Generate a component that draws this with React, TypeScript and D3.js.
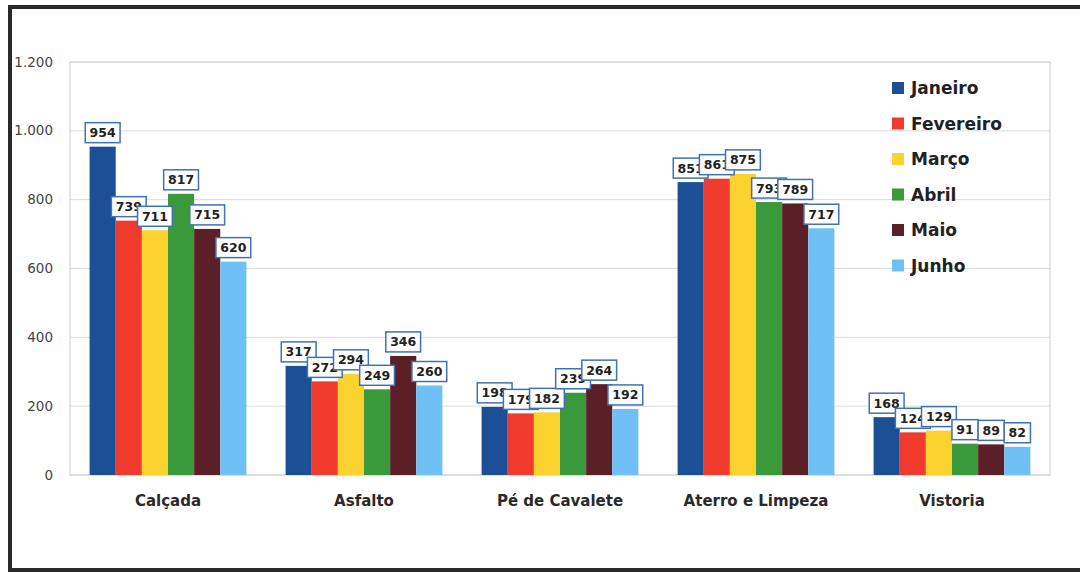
import React from "react";
import * as d3 from "d3";

const categories = ["Calçada", "Asfalto", "Pé de Cavalete", "Aterro e Limpeza", "Vistoria"];
const months = ["Janeiro", "Fevereiro", "Março", "Abril", "Maio", "Junho"];
const colors = ["#1d4f96", "#ef3a2d", "#fcd22f", "#3a993b", "#5b1f27", "#6fc0f4"];
const janeiro = [954, 317, 198, 851, 168];
const fevereiro = [739, 272, 179, 861, 124];
const marco = [711, 294, 182, 875, 129];
const abril = [817, 249, 239, 793, 91];
const maio = [715, 346, 264, 789, 89];
const junho = [620, 260, 192, 717, 82];
const series = [janeiro, fevereiro, marco, abril, maio, junho];
const yTicks = [0, 200, 400, 600, 800, 1000, 1200];

const W = 1080;
const H = 573;
const plot = { left: 70, right: 1050, top: 62, bottom: 475 };

export default function App() {
  const x0 = d3
    .scaleBand<string>()
    .domain(categories)
    .range([plot.left, plot.right])
    .paddingInner(0.2)
    .paddingOuter(0.1);
  const x1 = d3.scaleBand<string>().domain(months).range([0, x0.bandwidth()]).padding(0);
  const y = d3.scaleLinear().domain([0, 1200]).range([plot.bottom, plot.top]);
  const fmt = (v: number) => d3.format(",")(v).replace(/,/g, ".");

  const labelFont = "'DejaVu Sans', Verdana, sans-serif";

  return (
    <svg
      width={W}
      height={H}
      style={{ position: "absolute", left: 0, top: 0, background: "#fff" }}
      fontFamily={labelFont}
    >
      <rect x={0} y={0} width={W} height={H} fill="#fff" />
      {/* outer frame */}
      <rect x={10} y={7} width={W + 20} height={563} fill="none" stroke="#2a2a2a" strokeWidth={4} />
      {/* gridlines */}
      {yTicks.map((t) => (
        <line key={t} x1={plot.left} x2={plot.right} y1={y(t)} y2={y(t)} stroke="#dcdcdc" strokeWidth={1} />
      ))}
      <rect
        x={plot.left}
        y={plot.top}
        width={plot.right - plot.left}
        height={plot.bottom - plot.top}
        fill="none"
        stroke="#cfcfcf"
        strokeWidth={1}
      />
      {/* y axis labels */}
      {yTicks.map((t) => (
        <text key={t} x={53} y={y(t) + 4.5} textAnchor="end" fontSize={13.5} fill="#444">
          {fmt(t)}
        </text>
      ))}
      {/* bars */}
      {categories.map((c, ci) => (
        <g key={c} transform={`translate(${x0(c)},0)`}>
          {months.map((m, mi) => (
            <rect
              key={m}
              x={x1(m)}
              y={y(series[mi][ci])}
              width={x1.bandwidth()}
              height={plot.bottom - y(series[mi][ci])}
              fill={colors[mi]}
            />
          ))}
        </g>
      ))}
      {/* data labels */}
      {categories.map((c, ci) => (
        <g key={c} transform={`translate(${x0(c)},0)`}>
          {months.map((m, mi) => {
            const v = series[mi][ci];
            const cx = (x1(m) as number) + x1.bandwidth() / 2;
            const txt = String(v);
            const bw = txt.length * 8.6 + 9;
            const bh = 20;
            const by = y(v) - 4 - bh;
            return (
              <g key={m}>
                <rect x={cx - bw / 2} y={by} width={bw} height={bh} fill="#fff" stroke="#3f72b5" strokeWidth={1.5} />
                <text x={cx} y={by + 14.5} textAnchor="middle" fontSize={12.5} fontWeight="bold" fill="#222">
                  {txt}
                </text>
              </g>
            );
          })}
        </g>
      ))}
      {/* category labels */}
      {categories.map((c) => (
        <text
          key={c}
          x={(x0(c) as number) + x0.bandwidth() / 2}
          y={506}
          textAnchor="middle"
          fontSize={15}
          fontWeight="bold"
          fill="#2a2a2a"
        >
          {c}
        </text>
      ))}
      {/* legend */}
      {months.map((m, i) => (
        <g key={m} transform={`translate(892, ${88 + i * 35.5})`}>
          <rect x={0} y={-6} width={12} height={12} fill={colors[i]} />
          <text x={19} y={6} fontSize={17} fontWeight="bold" fill="#222">
            {m}
          </text>
        </g>
      ))}
    </svg>
  );
}
